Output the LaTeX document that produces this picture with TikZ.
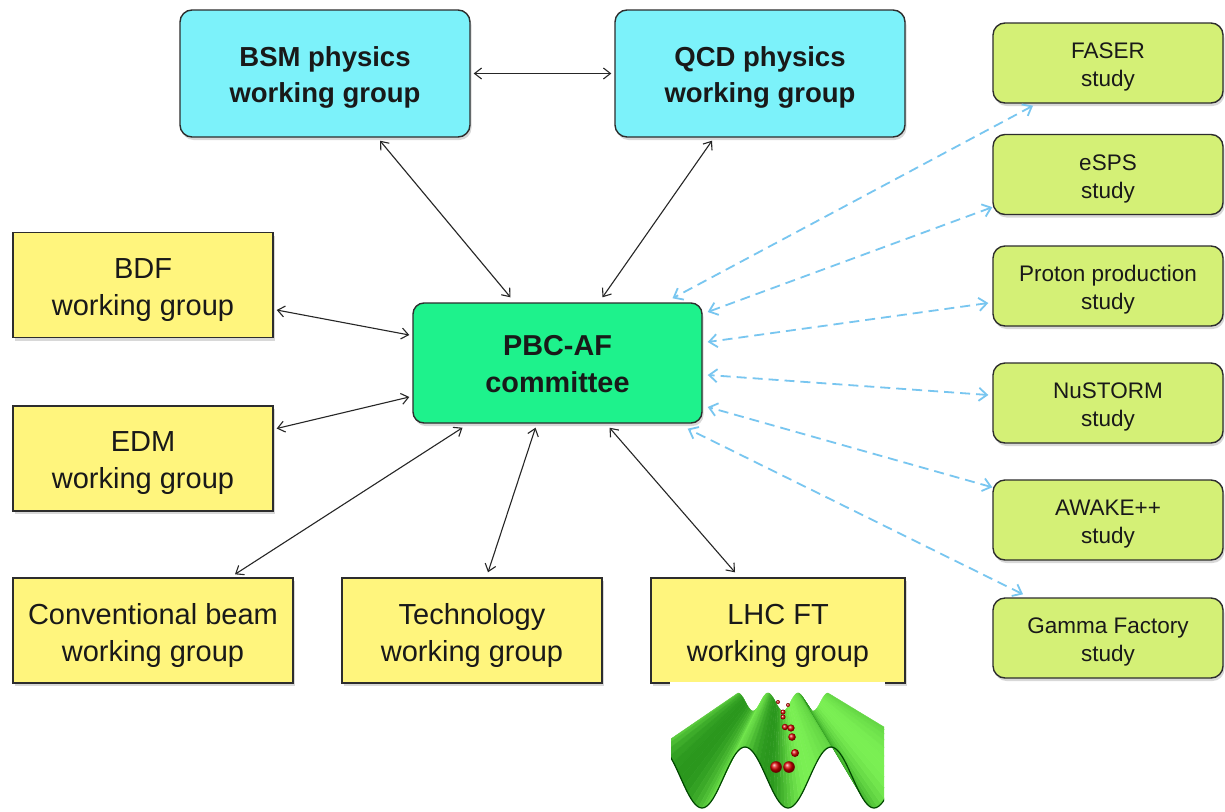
\documentclass[tikz,border=0pt]{standalone}
\usepackage{fontspec}
\setmainfont{Liberation Sans}
\usetikzlibrary{arrows.meta,shadows,calc}

\definecolor{physcyan}{RGB}{124,242,250}
\definecolor{wgyellow}{RGB}{255,245,125}
\definecolor{studylime}{RGB}{212,240,118}
\definecolor{pbcgreen}{RGB}{30,242,140}
\definecolor{edgegrey}{RGB}{45,45,45}
\definecolor{linkblue}{RGB}{120,198,240}
\definecolor{wavelight}{RGB}{125,242,85}
\definecolor{wavedark}{RGB}{0,105,0}
\definecolor{waverim}{RGB}{0,70,0}

% \boxlift is a strut on the first text line of a box; its height sets
% how far the two lines sit below the box centre
\tikzset{
  box/.style={draw=edgegrey, line width=1.4pt, align=center, text=black!90, inner sep=0pt,
    drop shadow={shadow xshift=1.5pt, shadow yshift=-3pt, opacity=0.3}},
  physbox/.style={box, fill=physcyan, rounded corners=12pt, minimum width=290pt,
    minimum height=127pt, font=\fontsize{27.5}{36}\selectfont\bfseries,
    execute at begin node={\def\boxlift{\rule{0pt}{28pt}}}},
  pbcbox/.style={box, fill=pbcgreen, rounded corners=11pt, minimum width=289pt,
    minimum height=120pt, font=\fontsize{28.8}{37}\selectfont\bfseries,
    execute at begin node={\def\boxlift{\rule{0pt}{23pt}}}},
  wgbox/.style={box, fill=wgyellow, minimum height=105pt, font=\fontsize{29}{37}\selectfont,
    execute at begin node={\def\boxlift{\rule{0pt}{30pt}}}},
  studybox/.style={box, fill=studylime, rounded corners=12pt, minimum width=230pt,
    minimum height=80pt, font=\fontsize{22.5}{28}\selectfont,
    execute at begin node={\def\boxlift{\rule{0pt}{24pt}}}},
  conn/.style={<->, >={Straight Barb[length=7pt,width=11pt]}, black!85, line width=1.1pt},
  link/.style={<->, >={Straight Barb[length=8pt,width=13pt]}, linkblue, line width=1.8pt,
    dash pattern=on 10pt off 6pt},
  declare function={
    wx(\t,\v)=(1-\v)*(788+86*\t)+\v*(783+30*\t);
    wy(\t,\v)=(1-\v)*(777.5+30.5*cos(360*\t))+\v*(702+9*cos(360*\t));
  }
}

\begin{document}
\begin{tikzpicture}[x=1pt,y=-1pt]
\useasboundingbox (0,0) rectangle (1225,811);
\fill[white] (0,0) rectangle (1225,811);

% physics working groups
\node[physbox] (bsm) at (325,73.5) {\boxlift BSM physics\\working group};
\node[physbox] (qcd) at (760,73.5) {\boxlift QCD physics\\working group};

% central committee
\node[pbcbox] (pbc) at (557.5,363) {\boxlift PBC-AF\\committee};

% accelerator working groups
\node[wgbox, minimum width=260pt] (bdf) at (143,285) {\boxlift BDF\\working group};
\node[wgbox, minimum width=260pt] (edm) at (143,458.5) {\boxlift EDM\\working group};
\node[wgbox, minimum width=280pt] (conv) at (153,630.5) {\boxlift Conventional beam\\working group};
\node[wgbox, minimum width=260pt] (tech) at (472,630.5) {\boxlift Technology\\working group};
\node[wgbox, minimum width=254pt] (lhc) at (778,630.5) {\boxlift LHC FT\\working group};

% studies
\node[studybox] (faser) at (1108,63) {\boxlift FASER\\study};
\node[studybox] (esps) at (1108,174.5) {\boxlift eSPS\\study};
\node[studybox] (proton) at (1108,286) {\boxlift Proton production\\study};
\node[studybox] (nustorm) at (1108,403) {\boxlift NuSTORM\\study};
\node[studybox] (awake) at (1108,520) {\boxlift AWAKE++\\study};
\node[studybox] (gamma) at (1108,638) {\boxlift Gamma Factory\\study};

% links between working groups and the committee
\draw[conn] ([shift={(3,0)}]bsm.east) -- ([shift={(-3,0)}]qcd.west);
\draw[conn] ([shift={(55,3)}]bsm.south) -- ([shift={(-47,-5)}]pbc.north);
\draw[conn] ([shift={(-48,3)}]qcd.south) -- ([shift={(45,-5)}]pbc.north);
\draw[conn] ([shift={(3,25)}]bdf.east) -- ([shift={(-3,-28)}]pbc.west);
\draw[conn] ([shift={(3,-30)}]edm.east) -- ([shift={(-3,34)}]pbc.west);
\draw[conn] ([shift={(82,-3)}]conv.north) -- ([shift={(-95,4)}]pbc.south);
\draw[conn] ([shift={(16,-5)}]tech.north) -- ([shift={(-22,4)}]pbc.south);
\draw[conn] ([shift={(-43,-5)}]lhc.north) -- ([shift={(52,4)}]pbc.south);

% links between studies and the committee
\draw[link] ([shift={(-75,2)}]faser.south) -- ([shift={(115,-4)}]pbc.north);
\draw[link] ([shift={(0,-8)}]esps.south west) -- ([shift={(5,-51)}]pbc.east);
\draw[link] ([shift={(-4,17)}]proton.west) -- ([shift={(5,-21)}]pbc.east);
\draw[link] ([shift={(-4,-8)}]nustorm.west) -- ([shift={(5,12)}]pbc.east);
\draw[link] ([shift={(0,8)}]awake.north west) -- ([shift={(5,44)}]pbc.east);
\draw[link] ([shift={(-85,-3)}]gamma.north) -- ([shift={(-15,5)}]pbc.south east);

% corrugated sheet with bunches below the LHC FT group
\fill[white] (670,682) rectangle (885,811);
\begin{scope}
  \clip (671,684) rectangle (884,811);
  \foreach \j in {0,...,71}{
    \pgfmathsetmacro\ta{-1.5+\j/24}
    \pgfmathsetmacro\tb{-1.5+(\j+1)/24}
    \pgfmathsetmacro\tm{(\ta+\tb)/2}
    \pgfmathtruncatemacro\pc{round(100*(0.66+0.32*sin(360*\tm)+0.1*max(0,-cos(360*\tm))^6))}
    \pgfmathtruncatemacro\pcc{min(100,max(0,\pc))}
    \fill[wavelight!\pcc!wavedark, draw=wavelight!\pcc!wavedark, line width=0.4pt]
      ({wx(\ta,0)},{wy(\ta,0)}) -- ({wx(\tb,0)},{wy(\tb,0)})
      -- ({wx(\tb,1)},{wy(\tb,1)}) -- ({wx(\ta,1)},{wy(\ta,1)}) -- cycle;
  }
  \draw[waverim, line width=1.2pt, domain=-1.5:1.5, samples=121, smooth]
    plot ({wx(\x,0)},{wy(\x,0)});
  % bunches in the central valley
  \foreach \bx/\by/\br in {778/702/2, 788/705/2, 783/712/2.5, 783/717/2.5,
      785/727/3.2, 791/728/3.6, 792/737/3.8, 795/753/4, 776/767/5.8, 789/767/5.8}{
    \shade[ball color=red!85!black] (\bx,\by) circle (\br pt);
  }
\end{scope}
\end{tikzpicture}
\end{document}
